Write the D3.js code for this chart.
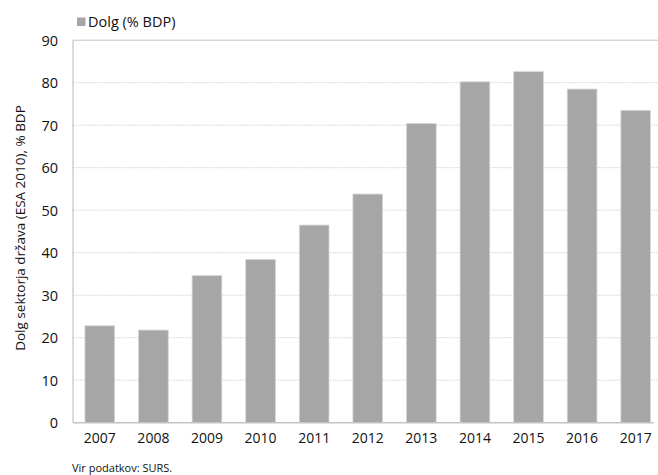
<!DOCTYPE html>
<html><head><meta charset="utf-8">
<script src="https://cdn.jsdelivr.net/npm/d3@7"></script>
<style>body{margin:0;background:#fff}svg{display:block}text{font-family:"Open Sans",sans-serif;fill:#111}</style>
</head><body><svg id="c" width="658" height="475"></svg>
<script>
const years = ["2007","2008","2009","2010","2011","2012","2013","2014","2015","2016","2017"];
const debt = [22.8,21.8,34.6,38.4,46.5,53.8,70.4,80.2,82.6,78.5,73.5];
const yTicks = [0,10,20,30,40,50,60,70,80,90];
const seriesName = "Dolg (% BDP)";
const yTitle = "Dolg sektorja država (ESA 2010), % BDP";
const source = "Vir podatkov: SURS.";

const svg = d3.select("#c");
const L = 73, R = 662.5, T = 40.2, B = 422.7;
const x = d3.scaleBand().domain(years).range([L, R]).paddingInner(0.446).paddingOuter(0.223);
const y = d3.scaleLinear().domain([0, 90]).range([B, T]);

// gridlines
svg.append("g").selectAll("line").data(yTicks.filter(d => d > 0)).join("line")
  .attr("x1", L).attr("x2", 658).attr("y1", d => y(d)).attr("y2", d => y(d))
  .attr("stroke", d => d === 90 ? "#c4c4c4" : "#cfcfcf")
  .attr("stroke-width", 1)
  .attr("stroke-dasharray", d => d === 90 ? null : "1.2,1");

// bars
svg.append("g").selectAll("rect").data(debt).join("rect")
  .attr("x", (d, i) => x(years[i]))
  .attr("width", x.bandwidth())
  .attr("y", d => y(d))
  .attr("height", d => B - y(d))
  .attr("fill", "#a6a6a6")
  .attr("stroke", "#d6d6d6").attr("stroke-width", 0.8);

// axes lines
svg.append("line").attr("x1", L).attr("x2", L).attr("y1", T).attr("y2", B).attr("stroke", "#c4c4c4").attr("stroke-width", 1.2);
svg.append("line").attr("x1", L).attr("x2", 654).attr("y1", B).attr("y2", B).attr("stroke", "#c4c4c4").attr("stroke-width", 1.5);

// y ticks labels
const ya = d3.axisLeft(y).tickValues(yTicks).tickSize(0).tickPadding(15);
const gy = svg.append("g").attr("transform", `translate(${L},0)`).call(ya);
gy.select(".domain").remove();
gy.selectAll("text").attr("font-size", 14.5).attr("font-family", "'Open Sans',sans-serif").attr("fill", "#111").attr("dy", "0.35em");

// x tick labels
const xa = d3.axisBottom(x).tickSize(0).tickPadding(10);
const gx = svg.append("g").attr("transform", `translate(0,${B})`).call(xa);
gx.select(".domain").remove();
gx.selectAll("text").attr("font-size", 14).attr("font-family", "'Open Sans',sans-serif").attr("fill", "#111");

// y title
svg.append("text").attr("transform", "translate(25,228) rotate(-90)")
  .attr("text-anchor", "middle").attr("font-size", 13.5).text(yTitle);

// legend
svg.append("rect").attr("x", 77).attr("y", 17.5).attr("width", 8.5).attr("height", 8.5).attr("fill", "#a6a6a6");
svg.append("text").attr("x", 88).attr("y", 27).attr("font-size", 14.5).text(seriesName);

// source
svg.append("text").attr("x", 72).attr("y", 472).attr("font-size", 11).text(source);
</script></body></html>
